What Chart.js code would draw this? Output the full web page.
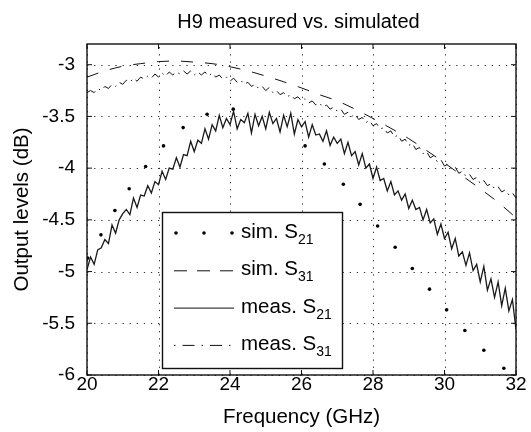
<!DOCTYPE html>
<html>
<head>
<meta charset="utf-8">
<title>H9 measured vs. simulated</title>
<script src="https://cdn.jsdelivr.net/npm/chart.js@4.4.1/dist/chart.umd.min.js"></script>
<style>
  html, body { margin: 0; padding: 0; background: #fff; }
  #wrap { width: 531px; height: 432px; }
</style>
</head>
<body>
<div id="wrap"><canvas id="chartH9"></canvas></div>
<script>
// axis ticks
const xTicks = [20, 22, 24, 26, 28, 30, 32];
const yTicks = [-6, -5.5, -5, -4.5, -4, -3.5, -3];

// simulated S21 (markers only)
const simS21Freq = [20.02, 20.39, 20.78, 21.18, 21.64, 22.14, 22.69, 23.36, 24.09, 26.1,
                    26.64, 27.17, 27.64, 28.13, 28.62, 29.1, 29.58, 30.06, 30.57, 31.1, 31.66];
const simS21Val = [-4.87, -4.645, -4.41, -4.2, -3.985, -3.785, -3.608, -3.479, -3.43, -3.785,
                   -3.96, -4.156, -4.35, -4.56, -4.765, -4.97, -5.17, -5.37, -5.57, -5.76, -5.935];

// simulated S31
const simS31Freq = [20, 20.5, 21, 21.5, 22, 22.5, 23, 23.5, 24, 24.5, 25, 25.5, 26,
                    26.5, 27, 27.5, 28, 28.5, 29, 29.5, 30, 30.5, 31, 31.5, 32];
const simS31Val = [-3.12, -3.06, -3.015, -2.99, -2.97, -2.965, -2.975, -2.99, -3.02, -3.06, -3.11, -3.165, -3.225,
                   -3.29, -3.35, -3.43, -3.52, -3.615, -3.715, -3.83, -3.95, -4.075, -4.2, -4.33, -4.48];

// measured sweep, 0.1 GHz steps
const measFreq = [
  20.0, 20.1, 20.2, 20.3, 20.4, 20.5, 20.6, 20.7, 20.8, 20.9,
  21.0, 21.1, 21.2, 21.3, 21.4, 21.5, 21.6, 21.7, 21.8, 21.9,
  22.0, 22.1, 22.2, 22.3, 22.4, 22.5, 22.6, 22.7, 22.8, 22.9,
  23.0, 23.1, 23.2, 23.3, 23.4, 23.5, 23.6, 23.7, 23.8, 23.9,
  24.0, 24.1, 24.2, 24.3, 24.4, 24.5, 24.6, 24.7, 24.8, 24.9,
  25.0, 25.1, 25.2, 25.3, 25.4, 25.5, 25.6, 25.7, 25.8, 25.9,
  26.0, 26.1, 26.2, 26.3, 26.4, 26.5, 26.6, 26.7, 26.8, 26.9,
  27.0, 27.1, 27.2, 27.3, 27.4, 27.5, 27.6, 27.7, 27.8, 27.9,
  28.0, 28.1, 28.2, 28.3, 28.4, 28.5, 28.6, 28.7, 28.8, 28.9,
  29.0, 29.1, 29.2, 29.3, 29.4, 29.5, 29.6, 29.7, 29.8, 29.9,
  30.0, 30.1, 30.2, 30.3, 30.4, 30.5, 30.6, 30.7, 30.8, 30.9,
  31.0, 31.1, 31.2, 31.3, 31.4, 31.5, 31.6, 31.7, 31.8, 31.9,
  32.0
];

const measS21 = [
  -4.98, -4.86, -4.93, -4.79, -4.77, -4.69, -4.73, -4.55, -4.63, -4.50,
  -4.44, -4.40, -4.45, -4.29, -4.38, -4.26, -4.27, -4.17, -4.24, -4.13,
  -4.16, -4.03, -4.11, -4.00, -4.01, -3.90, -3.99, -3.87, -3.88, -3.74,
  -3.84, -3.73, -3.76, -3.62, -3.72, -3.58, -3.64, -3.49, -3.61, -3.52,
  -3.58, -3.45, -3.62, -3.53, -3.56, -3.47, -3.66, -3.48, -3.59, -3.50,
  -3.62, -3.46, -3.57, -3.52, -3.65, -3.49, -3.60, -3.47, -3.67, -3.53,
  -3.60, -3.55, -3.70, -3.58, -3.68, -3.67, -3.74, -3.64, -3.78, -3.70,
  -3.76, -3.72, -3.86, -3.75, -3.88, -3.84, -3.97, -3.86, -4.00, -3.96,
  -4.10, -3.99, -4.12, -4.10, -4.22, -4.13, -4.26, -4.22, -4.31, -4.25,
  -4.39, -4.31, -4.40, -4.38, -4.50, -4.40, -4.53, -4.49, -4.64, -4.54,
  -4.68, -4.62, -4.78, -4.68, -4.85, -4.81, -4.94, -4.82, -4.99, -4.93,
  -5.10, -4.95, -5.18, -5.07, -5.25, -5.10, -5.33, -5.16, -5.38, -5.27,
  -5.56
];

const measS31 = [
  -3.27, -3.25, -3.27, -3.23, -3.25, -3.21, -3.23, -3.19, -3.21, -3.17,
  -3.19, -3.15, -3.17, -3.13, -3.16, -3.12, -3.14, -3.11, -3.13, -3.09,
  -3.12, -3.08, -3.11, -3.07, -3.10, -3.07, -3.09, -3.06, -3.09, -3.06,
  -3.10, -3.07, -3.10, -3.07, -3.11, -3.08, -3.12, -3.10, -3.14, -3.12,
  -3.16, -3.13, -3.17, -3.15, -3.19, -3.17, -3.21, -3.19, -3.23, -3.21,
  -3.25, -3.22, -3.27, -3.25, -3.29, -3.27, -3.31, -3.29, -3.33, -3.31,
  -3.35, -3.33, -3.37, -3.35, -3.39, -3.37, -3.41, -3.39, -3.43, -3.41,
  -3.45, -3.43, -3.48, -3.46, -3.50, -3.48, -3.53, -3.51, -3.56, -3.54,
  -3.59, -3.57, -3.62, -3.61, -3.66, -3.64, -3.70, -3.68, -3.74, -3.72,
  -3.78, -3.76, -3.82, -3.80, -3.86, -3.84, -3.90, -3.88, -3.94, -3.92,
  -3.98, -3.96, -4.01, -3.99, -4.05, -4.03, -4.08, -4.06, -4.11, -4.09,
  -4.15, -4.12, -4.17, -4.15, -4.20, -4.18, -4.23, -4.21, -4.26, -4.24,
  -4.29
];

const FONT = '"Liberation Sans", Arial, Helvetica, sans-serif';
Chart.defaults.font.family = FONT;
Chart.defaults.color = '#000';

const pairs = (xs, ys) => xs.map((x, i) => ({ x: x, y: ys[i] }));

// legend entries, drawn by hand so the S-parameter indices can be subscripts
const legendRows = [
  { main: 'sim. S', sub: '21', kind: 'dots' },
  { main: 'sim. S', sub: '31', kind: 'dash' },
  { main: 'meas. S', sub: '21', kind: 'solid' },
  { main: 'meas. S', sub: '31', kind: 'dashdot' }
];

const matlabFrame = {
  id: 'matlabFrame',
  beforeDatasetsDraw(chart) {
    const { ctx, chartArea: a, scales: { x, y } } = chart;
    ctx.save();
    ctx.strokeStyle = '#333';
    ctx.lineWidth = 1;
    ctx.setLineDash([1.3, 5.8]);
    xTicks.forEach(v => {
      const px = Math.round(x.getPixelForValue(v)) + 0.5;
      ctx.beginPath(); ctx.moveTo(px, a.bottom); ctx.lineTo(px, a.top); ctx.stroke();
    });
    yTicks.forEach(v => {
      const py = Math.round(y.getPixelForValue(v)) + 0.5;
      ctx.beginPath(); ctx.moveTo(a.left, py); ctx.lineTo(a.right, py); ctx.stroke();
    });
    ctx.restore();
  },
  afterDatasetsDraw(chart) {
    const { ctx, chartArea: a, scales: { x, y } } = chart;
    ctx.save();
    ctx.strokeStyle = '#111';
    ctx.lineWidth = 1.4;
    ctx.setLineDash([]);
    ctx.strokeRect(a.left, a.top, a.right - a.left, a.bottom - a.top);
    const tl = 5;
    ctx.lineWidth = 1;
    xTicks.forEach(v => {
      const px = x.getPixelForValue(v);
      ctx.beginPath();
      ctx.moveTo(px, a.bottom); ctx.lineTo(px, a.bottom - tl);
      ctx.moveTo(px, a.top); ctx.lineTo(px, a.top + tl);
      ctx.stroke();
    });
    yTicks.forEach(v => {
      const py = y.getPixelForValue(v);
      ctx.beginPath();
      ctx.moveTo(a.left, py); ctx.lineTo(a.left + tl, py);
      ctx.moveTo(a.right, py); ctx.lineTo(a.right - tl, py);
      ctx.stroke();
    });
    ctx.restore();
  },
  afterDraw(chart) {
    const { ctx, chartArea: a } = chart;
    ctx.save();

    // title
    ctx.fillStyle = '#000';
    ctx.font = '20px ' + FONT;
    ctx.textAlign = 'center';
    ctx.textBaseline = 'middle';
    ctx.fillText('H9 measured vs. simulated', (a.left + a.right) / 2 - 3, 22);

    // legend box
    const box = { x: 162, y: 212, w: 180, h: 156 };
    ctx.fillStyle = '#fff';
    ctx.fillRect(box.x, box.y, box.w, box.h);
    ctx.strokeStyle = '#111';
    ctx.lineWidth = 1.4;
    ctx.strokeRect(box.x + 0.5, box.y + 0.5, box.w, box.h);

    legendRows.forEach((row, i) => {
      const ry = box.y + 21 + i * 37.3;
      const x0 = box.x + 12, x1 = box.x + 72;
      ctx.strokeStyle = '#111';
      ctx.fillStyle = '#000';
      ctx.lineWidth = 1;
      if (row.kind === 'dots') {
        [x0 + 2, (x0 + x1) / 2, x1 - 2].forEach(dx => {
          ctx.beginPath(); ctx.arc(dx, ry, 1.8, 0, Math.PI * 2); ctx.fill();
        });
      } else {
        ctx.setLineDash(row.kind === 'dash' ? [13, 10] : row.kind === 'dashdot' ? [1.5, 7, 12, 7] : []);
        ctx.beginPath(); ctx.moveTo(x0, ry + 0.5); ctx.lineTo(x1, ry + 0.5); ctx.stroke();
        ctx.setLineDash([]);
      }
      ctx.textAlign = 'left';
      ctx.textBaseline = 'alphabetic';
      ctx.font = '20.5px ' + FONT;
      const tx = box.x + 79;
      ctx.fillText(row.main, tx, ry + 5);
      const w = ctx.measureText(row.main).width;
      ctx.font = '14px ' + FONT;
      ctx.fillText(row.sub, tx + w, ry + 11);
    });
    ctx.restore();
  }
};

new Chart(document.getElementById('chartH9'), {
  type: 'line',
  data: {
    datasets: [
      {
        label: 'meas. S21',
        data: pairs(measFreq, measS21),
        borderColor: '#1a1a1a',
        borderWidth: 1.3,
        pointRadius: 0
      },
      {
        label: 'meas. S31',
        data: pairs(measFreq, measS31),
        borderColor: '#111',
        borderWidth: 1,
        borderDash: [10, 5, 1.5, 5],
        pointRadius: 0
      },
      {
        label: 'sim. S31',
        data: pairs(simS31Freq, simS31Val),
        borderColor: '#111',
        borderWidth: 1,
        borderDash: [12, 12],
        cubicInterpolationMode: 'monotone',
        pointRadius: 0
      },
      {
        label: 'sim. S21',
        data: pairs(simS21Freq, simS21Val),
        showLine: false,
        pointRadius: 1.8,
        pointBackgroundColor: '#000',
        pointBorderWidth: 0
      }
    ]
  },
  options: {
    responsive: true,
    maintainAspectRatio: false,
    animation: false,
    devicePixelRatio: 1,
    layout: { padding: { top: 44, right: 15, left: 0, bottom: 0 } },
    plugins: { legend: { display: false }, tooltip: { enabled: false }, title: { display: false } },
    scales: {
      x: {
        type: 'linear',
        min: 20,
        max: 32,
        afterBuildTicks: s => { s.ticks = xTicks.map(v => ({ value: v })); },
        afterFit: s => { s.height = 57; },
        grid: { display: false, drawTicks: false },
        border: { display: false },
        ticks: { padding: -2, font: { size: 19 }, maxRotation: 0, autoSkip: false, callback: v => String(v) },
        title: { display: true, text: 'Frequency (GHz)', font: { size: 20.5 }, padding: { top: 0, bottom: 2 } }
      },
      y: {
        type: 'linear',
        min: -6,
        max: -2.8,
        afterBuildTicks: s => { s.ticks = yTicks.map(v => ({ value: v })); },
        afterFit: s => { s.width = 87; },
        grid: { display: false, drawTicks: false },
        border: { display: false },
        ticks: { padding: 12, font: { size: 19 }, autoSkip: false, callback: v => String(v) },
        title: { display: true, text: 'Output levels (dB)', font: { size: 20.5 }, padding: { top: 10, bottom: 0 } }
      }
    }
  },
  plugins: [matlabFrame]
});
</script>
</body>
</html>
